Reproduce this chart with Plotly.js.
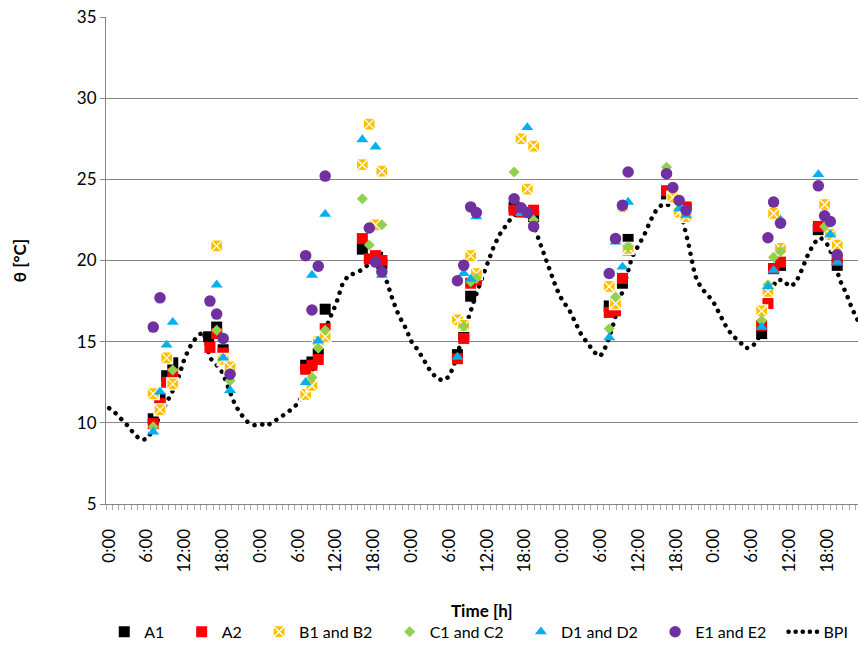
<!DOCTYPE html>
<html>
<head>
<meta charset="utf-8">
<script src="https://cdn.plot.ly/plotly-3.0.1.min.js"></script>
<style>html,body{margin:0;padding:0;background:#fff;}#chart{width:858px;height:648px;}</style>
</head>
<body>
<div id="chart"></div>
<script>
// ---- Tick labels ----
const tickHours = [0,6,12,18,24,30,36,42,48,54,60,66,72,78,84,90,96,102,108,114];
const tickLabels = ["0:00","6:00","12:00","18:00","0:00","6:00","12:00","18:00","0:00","6:00","12:00","18:00","0:00","6:00","12:00","18:00","0:00","6:00","12:00","18:00"];

// ---- BPI (hourly values, h0..h119) ----
const bpiValues = [
 10.9,10.6,10.2,9.8,9.3,8.95,9.0,9.6,10.4,11.1,11.9,12.8,14.0,14.8,15.35,15.6,14.0,13.6,13.1,12.1,11.1,10.5,10.05,9.85,
 9.95,9.8,10.05,10.25,10.55,10.85,11.2,11.9,12.9,14.1,15.4,16.4,17.3,18.5,19.1,19.2,19.4,19.7,19.9,19.6,18.8,17.6,16.6,15.9,
 15.0,14.5,13.8,13.2,12.75,12.6,12.85,13.8,15.2,16.5,17.6,18.7,19.8,20.8,21.6,22.2,22.7,23.0,23.0,22.6,21.5,20.3,19.4,18.3,
 17.5,17.0,16.2,15.4,14.9,14.35,14.1,14.8,16.0,17.4,18.9,20.2,20.9,21.6,22.5,23.2,23.5,23.4,23.2,22.6,21.0,19.1,18.3,17.9,
 17.4,16.7,15.9,15.35,15.05,14.6,14.65,15.1,16.6,18.1,18.8,18.8,18.4,18.6,19.45,20.4,21.1,21.4,21.0,20.2,18.8,18.0,17.0,16.2
];
const bpiHours = bpiValues.map((v, i) => i);

// ---- A1 ----
const a1Hours = [7.0,8.07,9.13,10.1, 15.8,17.07,18.1, 31.2,32.2,33.2,34.3, 40.2,42.6,43.3, 55.3,56.3,57.4,58.3, 64.3,65.4,67.4, 79.4,81.5,82.4, 88.5,91.6, 103.6,105.5,106.6, 112.6,115.6];
const a1Values = [10.25,11.5,12.9,13.7, 15.3,15.9,14.5, 13.55,13.75,14.5,17.0, 20.7,20.2,19.8, 14.2,15.4,17.8,18.9, 23.3,23.0,22.7, 17.2,18.6,21.3, 24.1,23.2, 15.5,19.5,19.7, 21.9,19.7];

// ---- A2 ----
const a2Hours = [7.0,8.07,9.13,10.1, 16.0,17.07,18.1, 31.2,32.2,33.2,34.3, 40.2,41.3,42.3,43.3, 55.3,56.3,57.4,58.3, 64.3,65.4,67.4, 79.4,80.4,81.5,82.4, 88.5,91.6, 103.6,104.6,105.5,106.6, 112.6,115.6];
const a2Values = [9.95,11.2,12.5,13.05, 14.65,15.5,14.3, 13.3,13.55,13.9,15.8, 21.35,20.1,20.3,20.0, 13.95,15.2,18.6,18.8, 23.1,23.0,23.1, 16.8,16.9,18.9,20.65, 24.3,23.3, 16.0,17.35,19.5,19.9, 22.1,20.0];

// ---- B1 and B2 ----
const bHours = [7.0,8.07,9.13,10.1, 17.07,18.1,19.2, 31.2,32.2,33.2,34.3, 40.2,41.3,42.3,43.3, 55.3,56.3,57.4,58.3, 65.4,66.4,67.4, 79.4,80.4,81.5,82.4, 89.5,90.5,91.6, 103.6,104.6,105.5,106.6, 113.6,114.5,115.6];
const bValues = [11.8,10.8,14.0,12.4, 20.9,13.9,13.45, 11.75,12.3,15.0,15.3, 25.9,28.4,22.2,25.5, 16.35,16.0,20.3,19.2, 27.5,24.4,27.05, 18.4,17.35,23.3,20.75, 23.9,23.0,22.7, 16.9,18.1,22.9,20.75, 23.45,21.6,20.95];

// ---- C1 and C2 ----
const cHours = [7.0,10.1, 17.07,19.2, 32.2,33.2,34.3, 40.2,41.3,43.3, 56.3,57.4,58.3, 64.3,67.4, 79.4,80.4,82.4, 88.5, 103.6,104.6,105.5,106.6, 113.6];
const cValues = [9.75,13.25, 15.7,12.6, 12.8,14.6,15.7, 23.8,20.95,22.2, 15.95,18.7,18.9, 25.45,22.5, 15.8,17.75,20.85, 25.75, 16.3,18.5,20.2,20.55, 22.1];

// ---- D1 and D2 ----
const dHours = [7.0,8.07,9.13,10.1, 17.07,18.1,19.2, 31.2,32.2,33.2,34.3, 40.2,42.3,43.3, 55.3,56.3,57.4,58.3, 65.4,66.4, 79.4,80.4,81.5,82.4, 90.5,91.6, 103.6,104.6,105.5,106.6, 112.6,114.5,115.6];
const dValues = [9.45,11.9,14.8,16.2, 18.5,14.0,12.0, 12.5,19.1,15.05,22.85, 27.45,27.0,19.1, 14.05,19.2,18.85,22.7, 22.9,28.2, 15.25,21.15,19.6,23.6, 23.2,22.8, 15.9,18.4,19.4,22.5, 25.3,21.6,19.9];

// ---- E1 and E2 ----
const eHours = [7.0,8.07, 16.0,17.07,18.1,19.2, 31.2,32.2,33.2,34.3, 41.3,42.3,43.3, 55.3,56.3,57.4,58.3, 64.3,65.4,66.4,67.4, 79.4,80.4,81.5,82.4, 88.5,89.5,90.5,91.6, 104.6,105.5,106.6, 112.6,113.6,114.5,115.6];
const eValues = [15.9,17.7, 17.5,16.7,15.2,13.0, 20.3,16.95,19.65,25.2, 22.0,19.9,19.3, 18.75,19.7,23.3,22.95, 23.8,23.25,22.95,22.1, 19.2,21.35,23.4,25.45, 25.35,24.5,23.7,23.1, 21.4,23.6,22.3, 24.6,22.75,22.4,20.35];

const FONT = 'Lato, "Open Sans", "DejaVu Sans", sans-serif';
const PAD = '\u00a0\u00a0\u00a0';

function pts(name, x, y, marker, rank) {
  return {type:'scatter', mode:'markers', name:name + PAD, x:x, y:y, marker:marker, legendrank:rank, cliponaxis:true, hoverinfo:'skip'};
}

const traces = [
  {type:'scatter', mode:'lines', name:'BPI', x:bpiHours, y:bpiValues,
   line:{color:'#000000', width:4.5, dash:'4px,4px'}, legendrank:7, hoverinfo:'skip'},
  pts('A1', a1Hours, a1Values, {symbol:'square', size:11, color:'#000000'}, 1),
  pts('A2', a2Hours, a2Values, {symbol:'square', size:11, color:'#FF0000'}, 2),
  pts('B1 and B2', bHours, bValues, {symbol:'square-x', size:12, color:'#FFC000', line:{color:'#FFFFFF', width:1.3}}, 3),
  pts('C1 and C2', cHours, cValues, {symbol:'diamond', size:8.5, color:'#92D050'}, 4),
  pts('D1 and D2', dHours, dValues, {symbol:'triangle-up', size:10.5, color:'#00B0F0'}, 5),
  pts('E1 and E2', eHours, eValues, {symbol:'circle', size:11.5, color:'#7030A0'}, 6)
];

const layout = {
  width:858, height:648,
  margin:{l:106, r:0, t:17, b:144, pad:0, autoexpand:false},
  paper_bgcolor:'#ffffff', plot_bgcolor:'#ffffff',
  font:{family:FONT, color:'#000000', size:15},
  showlegend:true,
  legend:{orientation:'h', xref:'container', yref:'container', x:0.558, xanchor:'center', y:0.025, yanchor:'middle',
          font:{family:FONT, size:16, color:'#000000'}, traceorder:'normal', itemwidth:30},
  xaxis:{
    range:[-0.5, 118.9], tickmode:'array', tickvals:tickHours, ticktext:tickLabels,
    tickangle:-90, ticks:'', showgrid:false, zeroline:false,
    showline:true, linecolor:'#868686', linewidth:1,
    ticklabelstandoff:17,
    tickfont:{family:FONT, size:17, color:'#000000'},
    minor:{ticks:'outside', ticklen:5, tickwidth:1, tickcolor:'#A6A6A6', tickmode:'linear', tick0:-0.5, dtick:1, showgrid:false}
  },
  yaxis:{
    range:[5,35], tickmode:'linear', tick0:5, dtick:5,
    showgrid:true, gridcolor:'#868686', gridwidth:1, zeroline:false,
    showline:true, linecolor:'#868686', linewidth:1,
    ticks:'outside', ticklen:5, tickcolor:'#868686',
    tickfont:{family:FONT, size:17, color:'#000000'},
    title:{text:'θ [°C]', font:{family:FONT, size:17, weight:'bold', color:'#000000'}, standoff:45}
  },
  annotations:[{
    text:'Time [h]', xref:'paper', yref:'paper', x:0.5, y:-0.2197,
    xanchor:'center', yanchor:'middle', showarrow:false,
    font:{family:FONT, size:17, weight:'bold', color:'#000000'}
  }]
};

Plotly.newPlot('chart', traces, layout, {displayModeBar:false, staticPlot:true}).then(function(gd){
  gd.querySelectorAll('.scatterlayer .trace path.js-line').forEach(function(p){
    if ((p.style.strokeDasharray || '').length) {
      p.style.strokeLinecap = 'round';
      p.style.strokeDasharray = '0.1px,8px';
    }
  });
  gd.querySelectorAll('.legend path.js-line').forEach(function(p){
    if ((p.style.strokeDasharray || '').length) {
      p.style.strokeLinecap = 'round';
      p.style.strokeDasharray = '0.1px,7px';
    }
  });
});
</script>
</body>
</html>
